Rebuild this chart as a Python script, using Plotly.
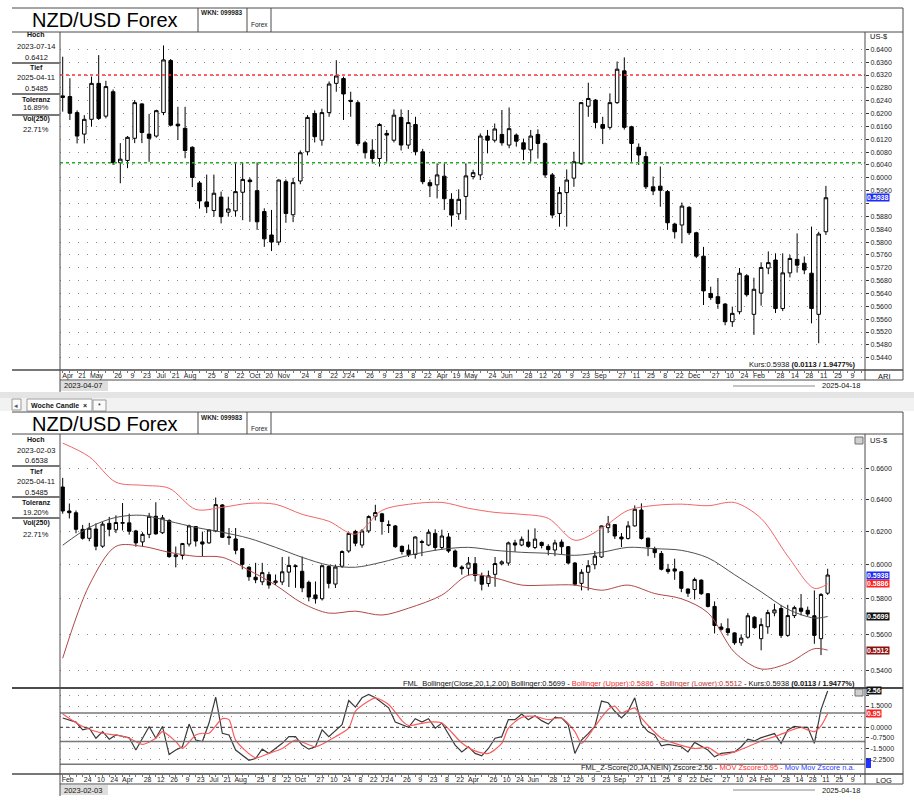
import math
import pandas as pd
import plotly.graph_objects as go

W, H = 914, 803
FONT = "Liberation Sans, Arial, sans-serif"

# ---------------- data (weekly NZD/USD candles from 2023-02-03) ----------------
first_week = "2023-02-03"
opens = [0.6479, 0.6327, 0.6316, 0.6213, 0.6158, 0.6215, 0.6110, 0.6250, 0.6210,
         0.6250, 0.6253, 0.6203, 0.6136, 0.6182, 0.6294, 0.6192, 0.6268, 0.6047, 0.6054,
         0.6123, 0.6230, 0.6136, 0.6130, 0.6203, 0.6365, 0.6167, 0.6154, 0.6095, 0.5984,
         0.5925, 0.5898, 0.5940, 0.5893, 0.5897, 0.5955, 0.5993, 0.5960, 0.5895, 0.5822,
         0.5800, 0.5988, 0.5885, 0.5990, 0.6081, 0.6200, 0.6117, 0.6203, 0.6294, 0.6309,
         0.6241, 0.6234, 0.6109, 0.6086, 0.6060, 0.6138, 0.6117, 0.6188, 0.6102, 0.6166,
         0.6081, 0.5985, 0.5978, 0.6005, 0.5933, 0.5888, 0.5942, 0.6004, 0.6009, 0.6130,
         0.6117, 0.6135, 0.6102, 0.6133, 0.6109, 0.6087, 0.6135, 0.6107, 0.6009, 0.5889,
         0.5954, 0.5999, 0.6045, 0.6223, 0.6242, 0.6166, 0.6157, 0.6234, 0.6333, 0.6159,
         0.6095, 0.6066, 0.5972, 0.5974, 0.5957, 0.5856, 0.5853, 0.5908, 0.5829, 0.5756,
         0.5640, 0.5630, 0.5607, 0.5552, 0.5583, 0.5695, 0.5575, 0.5641, 0.5719, 0.5744,
         0.5593, 0.5704, 0.5746, 0.5734, 0.5703, 0.5575, 0.5832]
highs = [0.6538, 0.6374, 0.6330, 0.6240, 0.6253, 0.6250, 0.6260, 0.6290, 0.6300,
         0.6377, 0.6310, 0.6210, 0.6195, 0.6315, 0.6382, 0.6302, 0.6275, 0.6108, 0.6130,
         0.6242, 0.6232, 0.6199, 0.6212, 0.6412, 0.6370, 0.6221, 0.6221, 0.6098, 0.5990,
         0.6010, 0.6010, 0.5957, 0.5941, 0.6045, 0.6047, 0.6000, 0.6048, 0.5905, 0.5900,
         0.5995, 0.5995, 0.6000, 0.6085, 0.6195, 0.6210, 0.6215, 0.6300, 0.6366, 0.6315,
         0.6268, 0.6240, 0.6115, 0.6120, 0.6170, 0.6149, 0.6213, 0.6213, 0.6211, 0.6190,
         0.6090, 0.5995, 0.6045, 0.6045, 0.5952, 0.5964, 0.6045, 0.6025, 0.6138, 0.6149,
         0.6169, 0.6211, 0.6219, 0.6138, 0.6122, 0.6149, 0.6151, 0.6110, 0.6015, 0.5972,
         0.6026, 0.6081, 0.6236, 0.6296, 0.6245, 0.6190, 0.6263, 0.6362, 0.6375, 0.6162,
         0.6107, 0.6081, 0.6004, 0.6035, 0.5962, 0.5860, 0.5923, 0.5912, 0.5832, 0.5785,
         0.5661, 0.5688, 0.5610, 0.5599, 0.5719, 0.5700, 0.5689, 0.5737, 0.5771, 0.5765,
         0.5765, 0.5760, 0.5827, 0.5755, 0.5848, 0.5832, 0.5975]
lows = [0.6310, 0.6280, 0.6189, 0.6150, 0.6140, 0.6085, 0.6100, 0.6170, 0.6190,
        0.6206, 0.6180, 0.6107, 0.6107, 0.6159, 0.6180, 0.6185, 0.6040, 0.5983, 0.6030,
        0.6108, 0.6108, 0.6050, 0.6125, 0.6195, 0.6160, 0.6118, 0.6061, 0.5971, 0.5904,
        0.5890, 0.5879, 0.5858, 0.5879, 0.5879, 0.5868, 0.5863, 0.5838, 0.5785, 0.5772,
        0.5790, 0.5860, 0.5862, 0.5980, 0.6070, 0.6110, 0.6100, 0.6190, 0.6268, 0.6180,
        0.6190, 0.6100, 0.6060, 0.6045, 0.6035, 0.6050, 0.6110, 0.6085, 0.6090, 0.6070,
        0.5980, 0.5940, 0.5936, 0.5900, 0.5848, 0.5869, 0.5869, 0.5995, 0.5993, 0.6076,
        0.6110, 0.6100, 0.6092, 0.6097, 0.6055, 0.6050, 0.6060, 0.6000, 0.5874, 0.5848,
        0.5848, 0.5972, 0.6040, 0.6190, 0.6154, 0.6105, 0.6150, 0.6230, 0.6150, 0.6050,
        0.6040, 0.5965, 0.5946, 0.5910, 0.5838, 0.5811, 0.5796, 0.5822, 0.5750, 0.5604,
        0.5620, 0.5592, 0.5541, 0.5536, 0.5575, 0.5630, 0.5511, 0.5602, 0.5700, 0.5579,
        0.5585, 0.5690, 0.5705, 0.5700, 0.5547, 0.5485, 0.5822]
closes = [0.6327, 0.6316, 0.6213, 0.6158, 0.6220, 0.6110, 0.6245, 0.6213, 0.6255,
          0.6255, 0.6201, 0.6130, 0.6182, 0.6294, 0.6185, 0.6284, 0.6047, 0.6058, 0.6126,
          0.6234, 0.6141, 0.6123, 0.6209, 0.6367, 0.6164, 0.6162, 0.6085, 0.6001, 0.5928,
          0.5910, 0.5952, 0.5879, 0.5903, 0.5957, 0.5995, 0.5988, 0.5863, 0.5810, 0.5800,
          0.5993, 0.5889, 0.5985, 0.6078, 0.6188, 0.6128, 0.6203, 0.6292, 0.6317, 0.6261,
          0.6238, 0.6107, 0.6078, 0.6060, 0.6166, 0.6133, 0.6195, 0.6102, 0.6172, 0.6081,
          0.5988, 0.5975, 0.6009, 0.5935, 0.5884, 0.5933, 0.6006, 0.6016, 0.6130, 0.6117,
          0.6152, 0.6109, 0.6153, 0.6114, 0.6089, 0.6130, 0.6107, 0.6009, 0.5884, 0.5954,
          0.5993, 0.6050, 0.6234, 0.6247, 0.6172, 0.6154, 0.6234, 0.6338, 0.6157, 0.6107,
          0.6071, 0.5972, 0.5959, 0.5961, 0.5860, 0.5832, 0.5912, 0.5829, 0.5756, 0.5648,
          0.5627, 0.5609, 0.5552, 0.5578, 0.5703, 0.5636, 0.5653, 0.5721, 0.5736, 0.5593,
          0.5704, 0.5749, 0.5728, 0.5713, 0.5593, 0.5825, 0.5938]
top_first = 9  # upper chart starts with the week of 2023-04-07

# Bollinger(20, 2) (week number, value)
bb_week = [0, 4, 8, 12, 16, 20, 24, 28, 32, 36, 40, 44, 48, 52, 57, 61, 65, 69, 73, 77,
           81, 85, 89, 93, 97, 101, 105, 109, 113, 115]
bb_upper = [0.6767, 0.6676, 0.6510, 0.6490, 0.6471, 0.6337, 0.6350, 0.6375, 0.6369, 0.6306,
            0.6263, 0.6183, 0.6331, 0.6369, 0.6381, 0.6344, 0.6318, 0.6306, 0.6281, 0.6146,
            0.6219, 0.6331, 0.6362, 0.6370, 0.6360, 0.6380, 0.6280, 0.6050, 0.5860, 0.5886]
bb_mid = [0.6116, 0.6225, 0.6287, 0.6300, 0.6263, 0.6225, 0.6195, 0.6158, 0.6103, 0.6043,
          0.5996, 0.5984, 0.6014, 0.6055, 0.6091, 0.6103, 0.6085, 0.6073, 0.6067, 0.6055,
          0.6073, 0.6103, 0.6095, 0.6085, 0.6040, 0.5940, 0.5840, 0.5740, 0.5690, 0.5699]
bb_lower = [0.5468, 0.5879, 0.6109, 0.6109, 0.6073, 0.6049, 0.6043, 0.5966, 0.5879, 0.5775,
            0.5718, 0.5729, 0.5707, 0.5746, 0.5821, 0.5937, 0.5920, 0.5879, 0.5879, 0.5879,
            0.5849, 0.5879, 0.5830, 0.5800, 0.5720, 0.5500, 0.5410, 0.5440, 0.5520, 0.5512]

# Z-score (20) and its moving average (week number, value)
z_week = [0, 2, 3, 4, 5, 6, 7, 8, 10, 11, 13, 14, 15, 16, 17, 18, 19, 20, 21, 22, 23, 24, 25,
          26, 28, 29, 30, 31, 33, 34, 35, 36, 37, 38, 39, 40, 42, 43, 44, 45, 46, 47, 49, 50,
          52, 53, 54, 55, 56, 57, 59, 60, 61, 62, 63, 64, 65, 66, 67, 68, 69, 70, 71, 72, 73,
          74, 75, 76, 77, 78, 79, 80, 81, 82, 83, 84, 85, 86, 87, 88, 89, 90, 91, 93, 94, 95,
          97, 98, 99, 101, 102, 103, 104, 105, 107, 108, 109, 110, 111, 112, 113, 114, 115]
z_val = [0.66, 0.37, -0.18, -0.06, -0.77, -0.30, -0.84, -0.54, -0.73, -1.60, 0.06, -0.77,
         0.06, -1.92, -1.60, -1.37, 0.23, -0.90, -1.00, 0.30, 2.13, -0.42, -0.54, -1.60,
         -2.32, -2.20, -1.54, -1.84, -1.13, -0.66, -0.66, -1.25, -1.54, -1.37, -0.18, -0.66,
         0.18, 1.89, 1.42, 2.08, 2.32, 2.08, 1.37, 0.37, 0.00, 0.61, 0.37, 0.61, -0.06, 0.30,
         -1.25, -1.73, -1.37, -1.84, -2.01, -1.49, -0.77, -0.66, 0.54, 0.54, 0.94, 0.54, 0.82,
         0.47, 0.23, 0.70, 0.66, 0.18, -1.84, -0.90, -0.44, 0.06, 1.85, 1.73, 1.13, 0.66,
         1.13, 2.08, 0.23, -0.30, -0.54, -1.30, -1.20, -1.37, -1.73, -1.06, -1.60, -2.08,
         -1.84, -1.73, -1.37, -0.84, -0.96, -0.73, -0.44, -1.13, -0.18, 0.06, 0.00, 0.00,
         -1.13, 1.25, 2.56]
mov_week = [0, 3, 6, 8, 10, 12, 14, 15, 17, 18, 20, 21, 22, 24, 25, 26, 29, 31, 33, 35, 38,
            41, 43, 44, 46, 47, 49, 51, 52, 55, 57, 60, 62, 64, 66, 67, 69, 71, 73, 75, 77,
            78, 80, 82, 83, 84, 86, 87, 90, 92, 95, 97, 99, 101, 103, 105, 107, 109, 111,
            112, 113, 114, 115]
mov_val = [0.94, 0.06, -0.42, -0.54, -0.77, -1.20, -0.77, -0.30, -1.00, -1.49, -0.54, -0.42,
           -0.42, 0.61, 0.54, -0.90, -2.15, -1.84, -1.49, -0.90, -1.37, -0.66, -0.06, 1.13,
           1.85, 2.08, 1.61, 0.47, 0.13, 0.37, 0.30, -1.10, -1.66, -1.84, -1.13, -0.06, 0.70,
           0.77, 0.54, 0.66, -0.30, -1.13, 0.06, 1.25, 1.49, 1.02, 1.37, 0.66, -0.77, -1.13,
           -1.49, -1.42, -1.96, -1.73, -1.37, -0.96, -0.66, -0.30, 0.00, -0.18, -0.30, 0.10,
           0.95]
z_levels_solid = [1.0, -1.0, -2.6]
z_level_dashed = 0.0

# reference lines of the upper chart
red_level = 0.6320
green_level = 0.6047

# last values shown in the right-hand boxes
last_close = 0.5938
last_mid = 0.5699
last_upper = 0.5886
last_lower = 0.5512
last_z = 2.56
last_mov = 0.95

# axis ticks and labels
top_price_ticks = [0.5440, 0.5480, 0.5520, 0.5560, 0.5600, 0.5640, 0.5680, 0.5720, 0.5760,
                   0.5800, 0.5840, 0.5880, 0.5920, 0.5960, 0.6000, 0.6040, 0.6080, 0.6120,
                   0.6160, 0.6200, 0.6240, 0.6280, 0.6320, 0.6360, 0.6400]
top_price_text = ["0.5440", "0.5480", "0.5520", "0.5560", "0.5600", "0.5640", "0.5680",
                  "0.5720", "0.5760", "0.5800", "0.5840", "0.5880", "", "0.5960", "0.6000",
                  "0.6040", "0.6080", "0.6120", "0.6160", "0.6200", "0.6240", "0.6280",
                  "0.6320", "0.6360", "0.6400"]  # 0.5920 is hidden by the price box
bot_price_ticks = [0.54, 0.56, 0.58, 0.60, 0.62, 0.64, 0.66]
bot_price_text = ["0.5400", "0.5600", "0.5800", "0.6000", "0.6200", "0.6400", "0.6600"]
z_ticks = [-2.25, -1.5, -0.75, 0.0, 0.75, 1.5, 2.25]
z_text = ["-2.2500", "-1.5000", "-0.7500", "0.0000", "", "1.5000", ""]  # 0.75 / 2.25 sit under the value boxes

top_tick_dates = ["2023-04-07", "2023-04-21", "2023-05-05", "2023-05-26", "2023-06-09",
                  "2023-06-23", "2023-07-07", "2023-07-21", "2023-08-04", "2023-08-25",
                  "2023-09-08", "2023-09-22", "2023-10-06", "2023-10-20", "2023-11-03",
                  "2023-11-24", "2023-12-08", "2023-12-22", "2024-01-05", "2024-01-26",
                  "2024-02-09", "2024-02-23", "2024-03-08", "2024-03-22", "2024-04-05",
                  "2024-04-19", "2024-05-03", "2024-05-24", "2024-06-07", "2024-06-28",
                  "2024-07-12", "2024-07-26", "2024-08-09", "2024-08-23", "2024-09-06",
                  "2024-09-27", "2024-10-11", "2024-10-25", "2024-11-08", "2024-11-22",
                  "2024-12-06", "2024-12-27", "2025-01-10", "2025-01-24", "2025-02-07",
                  "2025-02-28", "2025-03-14", "2025-03-28", "2025-04-11", "2025-04-25",
                  "2025-05-09"]
top_tick_text = ["Apr", "21", "May", "26", "9", "23", "Jul", "21", "Aug", "25", "8", "22",
                 "Oct", "20", "Nov", "24", "8", "22", "J'24", "26", "9", "23", "8", "22",
                 "Apr", "19", "May", "24", "Jun", "28", "12", "26", "9", "23", "Sep", "27",
                 "11", "25", "8", "22", "Dec", "27", "10", "24", "Feb", "28", "14", "28",
                 "11", "25", "9"]
bot_tick_dates = ["2023-02-03", "2023-02-24", "2023-03-10", "2023-03-24", "2023-04-07",
                  "2023-04-28", "2023-05-12", "2023-05-26", "2023-06-09", "2023-06-23",
                  "2023-07-07", "2023-07-21", "2023-08-04", "2023-08-25", "2023-09-08",
                  "2023-09-22", "2023-10-06", "2023-10-27", "2023-11-10", "2023-11-24",
                  "2023-12-08", "2023-12-22", "2024-01-05", "2024-01-26", "2024-02-09",
                  "2024-02-23", "2024-03-08", "2024-03-22", "2024-04-05", "2024-04-26",
                  "2024-05-10", "2024-05-24", "2024-06-07", "2024-06-28", "2024-07-12",
                  "2024-07-26", "2024-08-09", "2024-08-23", "2024-09-06", "2024-09-27",
                  "2024-10-11", "2024-10-25", "2024-11-08", "2024-11-22", "2024-12-06",
                  "2024-12-27", "2025-01-10", "2025-01-24", "2025-02-07", "2025-02-28",
                  "2025-03-14", "2025-03-28", "2025-04-11", "2025-04-25", "2025-05-09"]
bot_tick_text = ["Feb", "24", "10", "24", "Apr", "28", "12", "26", "9", "23", "Jul", "21",
                 "Aug", "25", "8", "22", "Oct", "27", "10", "24", "8", "22", "J'24", "26",
                 "9", "23", "8", "22", "Apr", "26", "10", "24", "Jun", "28", "12", "26", "9",
                 "23", "Sep", "27", "11", "25", "8", "22", "Dec", "27", "10", "24", "Feb",
                 "28", "14", "28", "11", "25", "9"]

weeks = pd.date_range(first_week, periods=len(closes), freq="7D")


# ---------------- helpers ----------------
def X(px):
    return px / W


def Y(py):
    return 1 - py / H


shapes = []
annotations = []


def line(x0, y0, x1, y1, color="#4a4a4a", width=1):
    shapes.append(dict(type="line", xref="paper", yref="paper", x0=X(x0), y0=Y(y0),
                       x1=X(x1), y1=Y(y1), line=dict(color=color, width=width)))


def rect(x0, y0, x1, y1, fill, border=None, bw=1):
    shapes.append(dict(type="rect", xref="paper", yref="paper", x0=X(x0), y0=Y(y0),
                       x1=X(x1), y1=Y(y1), fillcolor=fill,
                       line=dict(color=border or fill, width=bw if border else 0),
                       layer="below"))


def text(px, py, s, size=7.5, color="#111", anchor="center", bold=False, bg=None):
    if bold:
        s = "<b>" + s + "</b>"
    d = dict(x=X(px), y=Y(py), xref="paper", yref="paper", text=s, showarrow=False,
             xanchor=anchor, yanchor="middle",
             font=dict(family=FONT, size=size, color=color))
    if bg:
        d.update(bgcolor=bg, borderpad=0)
    annotations.append(d)


def value_box(yref, yval, s, bg, size=7):
    annotations.append(dict(x=X(866), y=yval, xref="paper", yref=yref, text="<b>" + s + "</b>",
                            showarrow=False, xanchor="left", yanchor="middle", bgcolor=bg,
                            borderpad=0, font=dict(family=FONT, size=size, color="white")))


# ---------------- traces ----------------
fig = go.Figure()
candle_style = dict(
    increasing=dict(line=dict(color="black", width=1), fillcolor="white"),
    decreasing=dict(line=dict(color="black", width=1), fillcolor="black"),
    whiskerwidth=0, showlegend=False, hoverinfo="skip")

fig.add_trace(go.Candlestick(x=weeks[top_first:], open=opens[top_first:],
                             high=highs[top_first:], low=lows[top_first:],
                             close=closes[top_first:], xaxis="x", yaxis="y", **candle_style))
fig.add_trace(go.Candlestick(x=weeks, open=opens, high=highs, low=lows, close=closes,
                             xaxis="x2", yaxis="y2", **candle_style))

bb_x = [weeks[i] for i in bb_week]
fig.add_trace(go.Scatter(x=bb_x, y=bb_upper, mode="lines", xaxis="x2", yaxis="y2",
                         line=dict(color="#f26565", width=1, shape="spline", smoothing=0.9),
                         hoverinfo="skip"))
fig.add_trace(go.Scatter(x=bb_x, y=bb_mid, mode="lines", xaxis="x2", yaxis="y2",
                         line=dict(color="#505050", width=1, shape="spline", smoothing=0.9),
                         hoverinfo="skip"))
fig.add_trace(go.Scatter(x=bb_x, y=bb_lower, mode="lines", xaxis="x2", yaxis="y2",
                         line=dict(color="#b04848", width=1, shape="spline", smoothing=0.9),
                         hoverinfo="skip"))

fig.add_trace(go.Scatter(x=[weeks[i] for i in z_week], y=z_val, mode="lines",
                         xaxis="x3", yaxis="y3", line=dict(color="#3a3a3a", width=1.2),
                         hoverinfo="skip"))
fig.add_trace(go.Scatter(x=[weeks[i] for i in mov_week], y=mov_val, mode="lines",
                         xaxis="x3", yaxis="y3",
                         line=dict(color="#ff5a5a", width=1.2, shape="spline", smoothing=0.7),
                         hoverinfo="skip"))

# ---------------- reference lines ----------------
for lvl, col in [(red_level, "#ff3030"), (green_level, "#22aa22")]:
    shapes.append(dict(type="line", xref="x domain", yref="y", x0=0, x1=1, y0=lvl, y1=lvl,
                       line=dict(color=col, width=1.5, dash="dot")))
for lvl in z_levels_solid:
    shapes.append(dict(type="line", xref="x3 domain", yref="y3", x0=0, x1=1, y0=lvl, y1=lvl,
                       line=dict(color="#777777", width=1.5)))
shapes.append(dict(type="line", xref="x3 domain", yref="y3", x0=0, x1=1, y0=z_level_dashed,
                   y1=z_level_dashed, line=dict(color="#333333", width=1, dash="dot")))

# ---------------- window chrome ----------------
# upper window
line(12, 8, 903, 8)
line(12, 32, 903, 32)
for vx in (198, 247, 271):
    line(vx, 8, vx, 32)
line(60, 32, 60, 392)
line(865, 32, 865, 380)
line(903, 8, 903, 380)
line(12, 370, 903, 370, width=1.3)
line(60, 380, 903, 380)
for sy in (63, 94, 115):
    line(12, sy, 60, sy, color="#777", width=2)
rect(60, 381, 108, 391, "#dedede")
line(733, 386, 815, 386, color="#c4c4c4", width=2)

# tab bar between the windows
rect(0, 392, 914, 398, "#e4e4e4")
rect(0, 398, 914, 411, "#f2f2f2")
rect(12, 399, 21, 410, "#fafafa", border="#9a9a9a")
rect(27, 399, 92, 411, "white", border="#9a9a9a")
rect(93, 400, 106, 411, "#fafafa", border="#9a9a9a")

# lower window
line(12, 412, 903, 412)
line(12, 434, 903, 434)
for vx in (198, 247, 271):
    line(vx, 412, vx, 434)
line(60, 434, 60, 796)
line(865, 434, 865, 784)
line(903, 412, 903, 784)
line(12, 688, 903, 688, width=2)
line(12, 774, 903, 774, width=1.3)
line(60, 784, 903, 784)
for sy in (466, 497, 518):
    line(12, sy, 60, sy, color="#777", width=2)
rect(60, 785, 108, 795, "#dedede")
line(733, 790, 815, 790, color="#c4c4c4", width=2)
rect(855, 437, 863, 444, "#d0d0d0", border="#707070")
rect(855, 689, 863, 696, "#d0d0d0", border="#707070")
rect(866, 758, 871, 768, "#2233ff")

# ---------------- texts ----------------
for y0, hoch_date, hoch, tol in [(0, "2023-07-14", "0.6412", "16.89%"),
                                 (404, "2023-02-03", "0.6538", "19.20%")]:
    text(105, y0 + 20, "NZD/USD Forex", size=20, color="#000")
    text(222, y0 + 13, "WKN: 099983", size=6.5, bold=True, color="#222")
    text(259, y0 + 24, "Forex", size=6.5, color="#222")
    text(36, y0 + 35, "Hoch", size=7, bold=True)
    text(36, y0 + 46, hoch_date, size=7.5)
    text(36, y0 + 57, hoch, size=7.5)
    text(36, y0 + 67, "Tief", size=7, bold=True)
    text(36, y0 + 78, "2025-04-11", size=7.5)
    text(36, y0 + 88, "0.5485", size=7.5)
    text(36, y0 + 99, "Toleranz", size=7, bold=True)
    text(36, y0 + 108, tol, size=7.5)
    text(36, y0 + 119, "Vol(250)", size=7, bold=True)
    text(36, y0 + 130, "22.71%", size=7.5)

text(59, 405, "Woche Candle  ×", size=7, bold=True)
text(99, 405, "*", size=7)
text(16, 405, "◂", size=7, color="#555")

text(868, 37, "US-$", size=7.5, anchor="left")
text(868, 440, "US-$", size=7.5, anchor="left")
text(857, 364, "Kurs:0.5938 <b>(0.0113 / 1.9477%)</b>", size=7.5, anchor="right")
text(884, 376, "ARI", size=7.5)
text(884, 780, "LOG", size=7.5)
text(62, 386, "2023-04-07", size=7.5, anchor="left")
text(862, 386, "2025-04-18", size=7.5, anchor="right")
text(62, 790, "2023-02-03", size=7.5, anchor="left")
text(862, 790, "2025-04-18", size=7.5, anchor="right")

text(857, 683,
     "FML_Bollinger(Close,20,1,2.00) Bollinger:0.5699 - "
     "<span style='color:#ee3333'>Bollinger (Upper):0.5886 - </span>"
     "<span style='color:#c03a3a'>Bollinger (Lower):0.5512</span>"
     " - Kurs:0.5938 <b>(0.0113 / 1.9477%)</b>", size=7.5, anchor="right")
text(857, 767,
     "FML_Z-Score(20,JA,NEIN) Zscore:2.56 - "
     "<span style='color:#ff2a2a'>MOV Zscore:0.95 - </span>"
     "<span style='color:#2a3cff'>Mov Mov Zscore n.a.</span>", size=7.5, anchor="right")

value_box("y", last_close, f"{last_close:.4f}", "#1a2cff")
value_box("y2", math.log10(last_close), f"{last_close:.4f}", "#1a2cff")
value_box("y2", math.log10(last_upper), f"{last_upper:.4f}", "#ff2020")
value_box("y2", math.log10(last_mid), f"{last_mid:.4f}", "#111111")
value_box("y2", math.log10(last_lower), f"{last_lower:.4f}", "#8b1010")
value_box("y3", last_z, f"{last_z:.2f}", "#111111")
value_box("y3", last_mov, f"{last_mov:.2f}", "#ff2020")

# ---------------- axes ----------------
grid = dict(showgrid=True, gridcolor="#8a8a8a", gridwidth=1, griddash="1px,8px")
tickfont = dict(family=FONT, size=7, color="#222")
xcommon = dict(type="date", showgrid=False, zeroline=False, showline=False,
               rangeslider=dict(visible=False), ticks="", tickfont=tickfont,
               ticklabelshift=5,
               minor=dict(ticks="outside", ticklen=2, dtick=7 * 86400000,
                          tick0=first_week, tickcolor="#777", showgrid=False))
ycommon = dict(side="right", zeroline=False, showline=False, ticks="outside", ticklen=3,
               tickcolor="#333", tickfont=dict(family=FONT, size=7, color="#222"), **grid)

fig.update_layout(
    width=W, height=H, margin=dict(l=0, r=0, t=0, b=0),
    paper_bgcolor="white", plot_bgcolor="white", showlegend=False, hovermode=False,
    font=dict(family=FONT, size=7.5, color="#111"),
    xaxis=dict(domain=[X(60), X(865)], anchor="y",
               range=["2023-04-04 09:00", "2025-05-26"],
               tickvals=top_tick_dates, ticktext=top_tick_text, **xcommon),
    yaxis=dict(domain=[Y(370), Y(32)], anchor="x", range=[0.54017, 0.64539],
               tickvals=top_price_ticks, ticktext=top_price_text, **ycommon),
    xaxis2=dict(domain=[X(60), X(865)], anchor="y2",
                range=["2023-01-31 04:00", "2025-05-27 07:00"],
                showticklabels=False, **{k: v for k, v in xcommon.items() if k != "minor"}),
    yaxis2=dict(domain=[Y(688), Y(436)], anchor="x2", type="log",
                range=[math.log10(0.5309), math.log10(0.6815)],
                tickvals=bot_price_ticks, ticktext=bot_price_text, **ycommon),
    xaxis3=dict(domain=[X(60), X(865)], anchor="y3", matches="x2",
                tickvals=bot_tick_dates, ticktext=bot_tick_text, **xcommon),
    yaxis3=dict(domain=[Y(774), Y(689)], anchor="x3", range=[-3.29, 2.70],
                tickvals=z_ticks, ticktext=z_text, **ycommon),
    shapes=shapes,
    annotations=annotations,
)

fig.write_html("out.html",
               config={"displayModeBar": False, "staticPlot": True},
               post_script="document.body.style.margin='0px';"
                           "document.body.style.overflow='hidden';")
